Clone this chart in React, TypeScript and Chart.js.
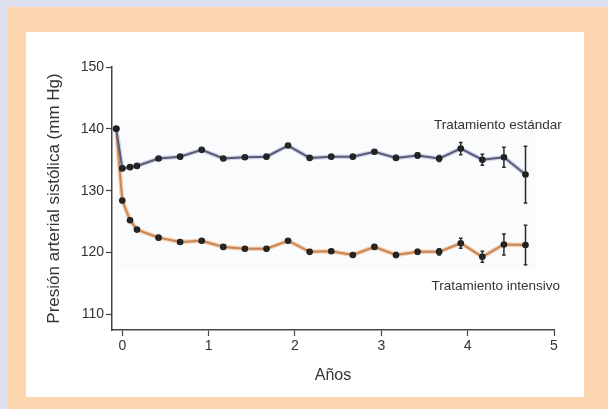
import React, { useEffect, useRef } from "react";
import { Chart, registerables } from "chart.js";

Chart.register(...registerables);

// ---- Data ----
const years = [-0.07, 0, 0.09, 0.17, 0.42, 0.67, 0.92, 1.17, 1.42, 1.67, 1.92, 2.17, 2.42, 2.67, 2.92, 3.17, 3.42, 3.67, 3.92, 4.17, 4.42, 4.67];
const standardBP = [140.0, 133.6, 133.8, 134.0, 135.2, 135.5, 136.6, 135.2, 135.4, 135.5, 137.3, 135.3, 135.5, 135.5, 136.3, 135.3, 135.7, 135.2, 136.8, 135.0, 135.4, 132.6];
const intensiveBP = [140.0, 128.4, 125.2, 123.7, 122.4, 121.7, 121.9, 120.9, 120.6, 120.6, 121.9, 120.1, 120.2, 119.6, 120.9, 119.6, 120.1, 120.1, 121.5, 119.3, 121.3, 121.2];
const standardErr = [0, 0.3, 0.3, 0.3, 0.3, 0.3, 0.3, 0.3, 0.3, 0.3, 0.3, 0.3, 0.3, 0.3, 0.3, 0.4, 0.4, 0.5, 1.0, 0.9, 1.6, 4.6];
const intensiveErr = [0, 0.3, 0.3, 0.3, 0.3, 0.3, 0.3, 0.3, 0.3, 0.3, 0.3, 0.3, 0.3, 0.3, 0.3, 0.4, 0.4, 0.5, 0.8, 0.9, 1.7, 3.2];
const xTicks = [0, 1, 2, 3, 4, 5];
const yTicks = [110, 120, 130, 140, 150];
const seriesNames = ["Tratamiento estándar", "Tratamiento intensivo"];
const nameAnchorX = [5.09, 5.07];
const nameAnchorY = [140.5, 114.6];
const xTitle = "Años";
const yTitle = "Presión arterial sistólica (mm Hg)";

const FONT = "'Liberation Sans', Arial, Helvetica, sans-serif";
const TEXT = "#333333";
const AXIS = "#444444";

const toPoints = (ys: number[]) => years.map((x, i) => ({ x, y: ys[i] }));

const backgroundPlugin = {
  id: "panels",
  beforeDraw(chart: any) {
    const { ctx, width, height } = chart;
    ctx.save();
    ctx.fillStyle = "#DFE1F1";
    ctx.fillRect(0, 0, width, height);
    ctx.fillStyle = "#FDD6B0";
    ctx.fillRect(8, 7, width - 8, height - 7);
    ctx.fillStyle = "#FFFFFF";
    ctx.fillRect(26, 32, 558, 365);
    ctx.restore();
  },
  beforeDatasetsDraw(chart: any) {
    const { ctx, scales } = chart;
    const xs = scales.x, ys = scales.y;
    const left = xs.getPixelForValue(years[0]) - 1;
    const right = xs.getPixelForValue(years[years.length - 1]) + 10;
    const top = ys.getPixelForValue(Math.max(...standardBP) + 1.3);
    const lows = intensiveBP.map((v, i) => v - intensiveErr[i]);
    const bottom = ys.getPixelForValue(Math.min(...lows) - 0.9);
    ctx.save();
    ctx.fillStyle = "#FAFBFD";
    ctx.fillRect(left, top, right - left, bottom - top);
    ctx.restore();
  },
};

const errorBarPlugin = {
  id: "errorBars",
  afterDatasetsDraw(chart: any) {
    const { ctx, scales } = chart;
    const xs = scales.x, ys = scales.y;
    const draw = (vals: number[], errs: number[]) => {
      vals.forEach((v, i) => {
        const e = errs[i];
        if (!e) return;
        const px = xs.getPixelForValue(years[i]);
        const y1 = ys.getPixelForValue(v + e);
        const y2 = ys.getPixelForValue(v - e);
        ctx.beginPath();
        ctx.moveTo(px, y1);
        ctx.lineTo(px, y2);
        ctx.moveTo(px - 1.8, y1);
        ctx.lineTo(px + 1.8, y1);
        ctx.moveTo(px - 1.8, y2);
        ctx.lineTo(px + 1.8, y2);
        ctx.stroke();
      });
    };
    ctx.save();
    ctx.strokeStyle = "#2a2a2a";
    ctx.lineWidth = 1.5;
    draw(standardBP, standardErr);
    draw(intensiveBP, intensiveErr);
    ctx.restore();
  },
  afterDraw(chart: any) {
    const { ctx, scales } = chart;
    ctx.save();
    ctx.fillStyle = TEXT;
    ctx.font = `13.5px ${FONT}`;
    ctx.textAlign = "right";
    ctx.textBaseline = "middle";
    seriesNames.forEach((name, i) => {
      ctx.fillText(name, scales.x.getPixelForValue(nameAnchorX[i]), scales.y.getPixelForValue(nameAnchorY[i]));
    });
    ctx.restore();
  },
};

export default function App() {
  const ref = useRef<HTMLCanvasElement | null>(null);

  useEffect(() => {
    document.body.style.margin = "0";
    const canvas = ref.current;
    if (!canvas) return;
    const chart = new Chart(canvas, {
      type: "line",
      data: {
        datasets: [
          {
            data: toPoints(standardBP),
            borderColor: "#585b76",
            borderWidth: 2,
            pointRadius: 3.3,
            pointBackgroundColor: "#1e1e1e",
            pointBorderWidth: 0,
            tension: 0,
            order: 1,
          },
          {
            data: toPoints(intensiveBP),
            borderColor: "#c4855a",
            borderWidth: 2,
            pointRadius: 3.3,
            pointBackgroundColor: "#1e1e1e",
            pointBorderWidth: 0,
            tension: 0,
            order: 1,
          },
          {
            data: toPoints(standardBP),
            borderColor: "#cdd3e6",
            borderWidth: 4.5,
            pointRadius: 0,
            tension: 0,
            order: 2,
          },
          {
            data: toPoints(intensiveBP),
            borderColor: "#f6d0ae",
            borderWidth: 4.5,
            pointRadius: 0,
            tension: 0,
            order: 2,
          },
        ],
      },
      options: {
        animation: false,
        responsive: false,
        devicePixelRatio: 1,
        layout: { padding: { left: 0, right: 54, top: 67, bottom: 0 } },
        plugins: { legend: { display: false }, tooltip: { enabled: false } },
        scales: {
          x: {
            type: "linear",
            min: -0.119,
            max: 5,
            afterBuildTicks(scale: any) {
              scale.ticks = xTicks.map((v) => ({ value: v }));
            },
            afterFit(scale: any) {
              scale.height = 79;
            },
            grid: { display: true, drawOnChartArea: false, drawTicks: true, tickLength: 6, color: AXIS, tickWidth: 1.2 },
            border: { display: true, color: AXIS, width: 1.5 },
            ticks: { autoSkip: false, padding: 2, color: TEXT, font: { family: FONT, size: 14 }, maxRotation: 0 },
            title: { display: true, text: xTitle, color: TEXT, font: { family: FONT, size: 16 }, padding: { top: 4, bottom: 24 } },
          },
          y: {
            type: "linear",
            min: 107.46,
            max: 150,
            afterBuildTicks(scale: any) {
              scale.ticks = yTicks.map((v) => ({ value: v }));
            },
            afterFit(scale: any) {
              scale.width = 112;
            },
            grid: { display: true, drawOnChartArea: false, drawTicks: true, tickLength: 6, color: AXIS, tickWidth: 1.2 },
            border: { display: true, color: AXIS, width: 1.5 },
            ticks: { autoSkip: false, padding: 2, color: TEXT, font: { family: FONT, size: 14 } },
            title: { display: true, text: yTitle, color: TEXT, font: { family: FONT, size: 17 }, padding: { top: 44, bottom: 4 } },
          },
        },
      },
      plugins: [backgroundPlugin, errorBarPlugin],
    });
    return () => chart.destroy();
  }, []);

  return (
    <div style={{ width: 608, height: 409 }}>
      <canvas ref={ref} width={608} height={409} style={{ display: "block" }} />
    </div>
  );
}
